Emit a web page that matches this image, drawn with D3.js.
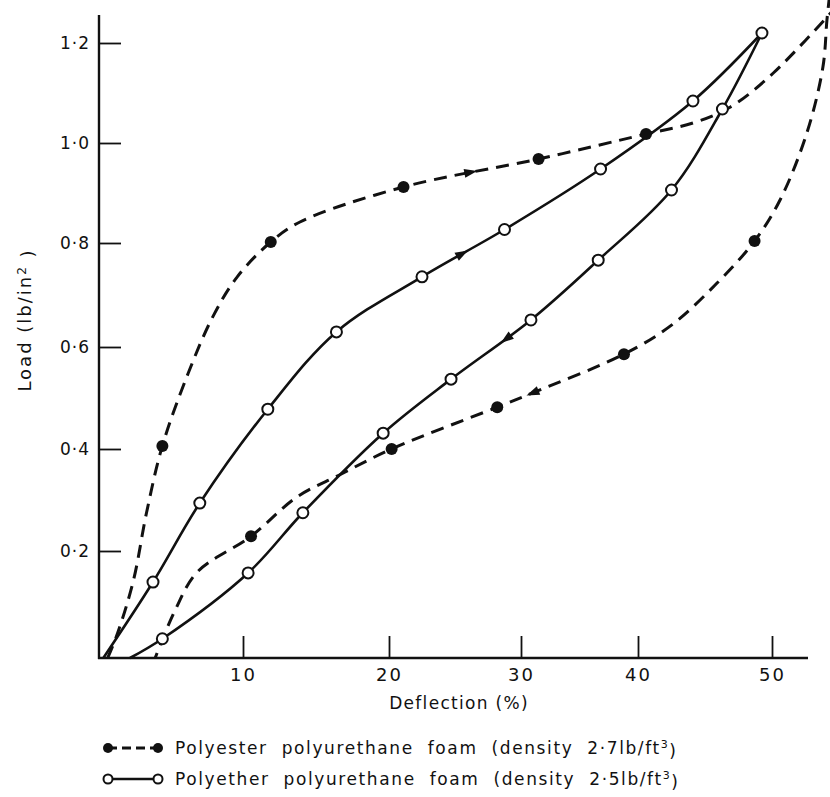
<!DOCTYPE html>
<html>
<head>
<meta charset="utf-8">
<script src="https://cdn.jsdelivr.net/npm/d3@7/dist/d3.min.js"></script>
<style>
  body { margin: 0; background: #fff; }
  svg text { font-family: "DejaVu Sans", sans-serif; fill: #111; }
</style>
</head>
<body>
<svg id="chart" width="830" height="797"></svg>
<script>
// Load / deflection hysteresis of two foams (loading up, unloading down)
const xTicks = [10, 20, 30, 40, 50];
const yTicks = [0.2, 0.4, 0.6, 0.8, 1.0, 1.2];
const yTickLabels = ["0·2", "0·4", "0·6", "0·8", "1·0", "1·2"];

// polyester: dashed, filled markers
const polyesterLoad = [[0.6, 0], [1.3, 0.047], [2.4, 0.146], [3.3, 0.275], [4.4, 0.406], [6.2, 0.549],
  [7.9, 0.658], [9.6, 0.735], [11.9, 0.802], [13.9, 0.842], [21.1, 0.912], [31.5, 0.968],
  [40.6, 1.018], [44.1, 1.04], [46.9, 1.072], [50.1, 1.14], [55.4, 1.29]];
const polyesterLoadMarks = [[4.4, 0.406], [11.9, 0.802], [21.1, 0.912], [31.5, 0.968], [40.6, 1.018]];
const polyesterUnload = [[54.3, 1.296], [54.1, 1.246], [53.8, 1.152], [52.6, 1.02], [50.6, 0.886],
  [48.7, 0.804], [45.9, 0.723], [42.5, 0.642], [38.8, 0.586], [31.0, 0.51], [28.2, 0.482],
  [20.2, 0.4], [16.6, 0.349], [13.7, 0.306], [10.55, 0.229], [6.8, 0.16], [5.3, 0.09],
  [4.4, 0.034], [3.9, 0]];
const polyesterUnloadMarks = [[48.7, 0.804], [38.8, 0.586], [28.2, 0.482], [20.2, 0.4], [10.55, 0.229]];

// polyether: solid, open markers
const polyetherLoad = [[0.3, 0], [3.75, 0.142], [7.0, 0.294], [11.7, 0.478], [16.4, 0.629],
  [22.5, 0.735], [28.75, 0.827], [36.8, 0.948], [44.1, 1.084], [49.25, 1.22]];
const polyetherLoadMarks = [[3.75, 0.142], [7.0, 0.294], [11.7, 0.478], [16.4, 0.629], [22.5, 0.735],
  [28.75, 0.827], [36.8, 0.948], [44.1, 1.084], [49.25, 1.22]];
const polyetherUnload = [[49.25, 1.22], [46.3, 1.068], [42.5, 0.906], [36.6, 0.767], [30.85, 0.652],
  [24.7, 0.537], [19.6, 0.431], [14.1, 0.275], [10.35, 0.159], [4.4, 0.036], [2.15, 0]];
const polyetherUnloadMarks = [[46.3, 1.068], [42.5, 0.906], [36.6, 0.767], [30.85, 0.652],
  [24.7, 0.537], [19.6, 0.431], [14.1, 0.275], [10.35, 0.159], [4.4, 0.036]];

// direction arrows sitting on the curves
const arrowsAt = [
  { curve: "polyesterLoad", at: [26.2, 0.94] },
  { curve: "polyetherLoad", at: [25.5, 0.781] },
  { curve: "polyetherUnload", at: [28.9, 0.617] },
  { curve: "polyesterUnload", at: [31.0, 0.51] }
];

const legendLabels = [
  ["Polyester polyurethane foam (density 2·7lb/ft", "3", ")"],
  ["Polyether polyurethane foam (density 2·5lb/ft", "3", ")"]
];

const svg = d3.select("#chart");

// the printed grid is slightly uneven, so the scales follow the printed ticks
const x = d3.scaleLinear()
  .domain([0, 10, 20, 30, 40, 50])
  .range([99, 243, 389, 521, 638, 772]);
const y = d3.scaleLinear()
  .domain([0, 0.2, 0.4, 0.6, 0.8, 1.0, 1.2])
  .range([658, 551, 449, 347, 243, 143, 43]);

// axes
svg.append("line").attr("x1", 99).attr("x2", 99).attr("y1", 15).attr("y2", 659)
  .attr("stroke", "#111").attr("stroke-width", 2.4);
svg.append("line").attr("x1", 98).attr("x2", 808).attr("y1", 658).attr("y2", 658)
  .attr("stroke", "#111").attr("stroke-width", 2.4);

const yAxis = svg.append("g").attr("transform", "translate(99,0)")
  .call(d3.axisRight(y).tickValues(yTicks).tickSize(22).tickFormat((d, i) => yTickLabels[i]));
yAxis.select(".domain").remove();
yAxis.selectAll(".tick line").attr("stroke", "#111").attr("stroke-width", 1.8);
yAxis.selectAll(".tick text").attr("x", -9).attr("text-anchor", "end")
  .style("font-size", "17px").style("letter-spacing", "1px");

const xAxis = svg.append("g").attr("transform", "translate(0,658)")
  .call(d3.axisTop(x).tickValues(xTicks).tickSize(22).tickFormat(d3.format("d")));
xAxis.select(".domain").remove();
xAxis.selectAll(".tick line").attr("stroke", "#111").attr("stroke-width", 1.8);
xAxis.selectAll(".tick text").attr("y", 17).attr("dy", "0.32em")
  .style("font-size", "18px").style("letter-spacing", "2px");

svg.append("text").attr("x", 459).attr("y", 703).attr("dy", "0.35em")
  .attr("text-anchor", "middle").style("font-size", "17px").style("letter-spacing", "1.3px")
  .text("Deflection (%)");

const yTitle = svg.append("text").attr("transform", "translate(25,320) rotate(-90)")
  .attr("dy", "0.35em").attr("text-anchor", "middle")
  .style("font-size", "18px").style("letter-spacing", "2px");
yTitle.append("tspan").text("Load (lb/in");
yTitle.append("tspan").attr("dy", "-0.45em").style("font-size", "12px").text("2");
yTitle.append("tspan").attr("dy", "0.45em").text(" )");

// curves
const line = d3.line()
  .x(d => x(d[0]))
  .y(d => y(d[1]))
  .curve(d3.curveCatmullRom.alpha(0.5));

const curves = {
  polyesterLoad: { data: polyesterLoad, dash: "13,8", width: 3 },
  polyesterUnload: { data: polyesterUnload, dash: "13,8", width: 3 },
  polyetherLoad: { data: polyetherLoad, dash: null, width: 2.6 },
  polyetherUnload: { data: polyetherUnload, dash: null, width: 2.6 }
};

const paths = {};
Object.keys(curves).forEach(k => {
  const c = curves[k];
  paths[k] = svg.append("path")
    .attr("fill", "none")
    .attr("stroke", "#111")
    .attr("stroke-width", c.width)
    .attr("stroke-dasharray", c.dash)
    .attr("d", line(c.data));
});

// arrows: find the nearest spot on the path, orient along it
arrowsAt.forEach(a => {
  const node = paths[a.curve].node();
  const total = node.getTotalLength();
  const px = x(a.at[0]), py = y(a.at[1]);
  let best = 0, bestD = Infinity;
  for (let l = 0; l <= total; l += 1) {
    const p = node.getPointAtLength(l);
    const dd = (p.x - px) ** 2 + (p.y - py) ** 2;
    if (dd < bestD) { bestD = dd; best = l; }
  }
  const p0 = node.getPointAtLength(Math.max(0, best - 3));
  const p1 = node.getPointAtLength(Math.min(total, best + 3));
  const p = node.getPointAtLength(best);
  const ang = Math.atan2(p1.y - p0.y, p1.x - p0.x) * 180 / Math.PI;
  svg.append("path")
    .attr("d", "M7,0L-6,-4.5L-6,4.5Z")
    .attr("fill", "#111")
    .attr("transform", `translate(${p.x},${p.y}) rotate(${ang})`);
});

// markers
function filledMarks(data) {
  svg.append("g").selectAll("circle").data(data).join("circle")
    .attr("cx", d => x(d[0])).attr("cy", d => y(d[1])).attr("r", 6)
    .attr("fill", "#111");
}
function openMarks(data) {
  svg.append("g").selectAll("circle").data(data).join("circle")
    .attr("cx", d => x(d[0])).attr("cy", d => y(d[1])).attr("r", 5.5)
    .attr("fill", "#fff").attr("stroke", "#111").attr("stroke-width", 2);
}
filledMarks(polyesterLoadMarks);
filledMarks(polyesterUnloadMarks);
openMarks(polyetherLoadMarks);
openMarks(polyetherUnloadMarks);

// legend
const legend = svg.append("g");
legendLabels.forEach((lab, i) => {
  const ly = 748 + i * 31;
  const g = legend.append("g").attr("transform", `translate(0,${ly})`);
  g.append("line").attr("x1", 108).attr("x2", 158).attr("y1", 0).attr("y2", 0)
    .attr("stroke", "#111").attr("stroke-width", i === 0 ? 3 : 2.6)
    .attr("stroke-dasharray", i === 0 ? "9,5" : null);
  [108, 158].forEach(cx => {
    g.append("circle").attr("cx", cx).attr("cy", 0).attr("r", i === 0 ? 5 : 4.5)
      .attr("fill", i === 0 ? "#111" : "#fff")
      .attr("stroke", "#111").attr("stroke-width", i === 0 ? 0 : 2);
  });
  const t = g.append("text").attr("x", 175).attr("dy", "0.35em")
    .style("font-size", "17px").style("letter-spacing", "1.6px").style("word-spacing", "7px");
  t.append("tspan").text(lab[0]);
  t.append("tspan").attr("dy", "-0.5em").style("font-size", "11px").text(lab[1]);
  t.append("tspan").attr("dy", "0.5em").text(lab[2]);
});
</script>
</body>
</html>
